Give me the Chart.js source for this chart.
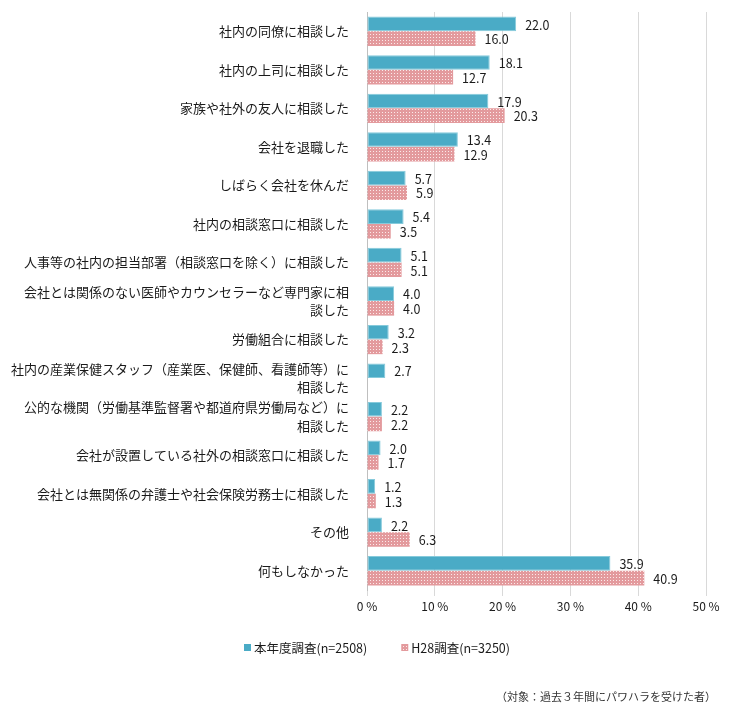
<!DOCTYPE html>
<html lang="ja">
<head>
<meta charset="utf-8">
<script src="https://cdn.jsdelivr.net/npm/chart.js@4.4.1/dist/chart.umd.min.js"></script>
<style>
  html, body { margin: 0; padding: 0; background: #ffffff; }
  #wrap { width: 732px; height: 707px; position: relative; }
</style>
</head>
<body>
<div id="wrap"><canvas id="chart" width="732" height="707"></canvas></div>
<script>
const CATEGORIES = [
  '社内の同僚に相談した',
  '社内の上司に相談した',
  '家族や社外の友人に相談した',
  '会社を退職した',
  'しばらく会社を休んだ',
  '社内の相談窓口に相談した',
  '人事等の社内の担当部署（相談窓口を除く）に相談した',
  ['会社とは関係のない医師やカウンセラーなど専門家に相', '談した'],
  '労働組合に相談した',
  ['社内の産業保健スタッフ（産業医、保健師、看護師等）に', '相談した'],
  ['公的な機関（労働基準監督署や都道府県労働局など）に', '相談した'],
  '会社が設置している社外の相談窓口に相談した',
  '会社とは無関係の弁護士や社会保険労務士に相談した',
  'その他',
  '何もしなかった',
];

const CURRENT_VALUES = [22.0, 18.1, 17.9, 13.4, 5.7, 5.4, 5.1, 4.0, 3.2, 2.7, 2.2, 2.0, 1.2, 2.2, 35.9];
const H28_VALUES = [16.0, 12.7, 20.3, 12.9, 5.9, 3.5, 5.1, 4.0, 2.3, null, 2.2, 1.7, 1.3, 6.3, 40.9];

const SERIES_LABELS = ['本年度調査(n=2508)', 'H28調査(n=3250)'];
const FOOTNOTE = '（対象：過去３年間にパワハラを受けた者）';

const FONT_FAMILY = '"Noto Sans CJK JP", "Noto Sans", sans-serif';
const TEXT_COLOR = '#1a1a1a';

function dottedPattern() {
  const tile = document.createElement('canvas');
  tile.width = 3;
  tile.height = 3;
  const ctx = tile.getContext('2d');
  ctx.fillStyle = '#e39a9d';
  ctx.fillRect(0, 0, 3, 3);
  ctx.fillStyle = '#fbeaea';
  ctx.fillRect(1, 1, 1, 1);
  return ctx.createPattern(tile, 'repeat');
}

const valueLabels = {
  id: 'valueLabels',
  afterDatasetsDraw(chart) {
    const { ctx } = chart;
    ctx.save();
    ctx.font = `12.5px ${FONT_FAMILY}`;
    ctx.fillStyle = TEXT_COLOR;
    ctx.textAlign = 'left';
    ctx.textBaseline = 'middle';
    chart.data.datasets.forEach((dataset, i) => {
      const meta = chart.getDatasetMeta(i);
      meta.data.forEach((bar, index) => {
        const value = dataset.data[index];
        if (value === null || value === undefined) {
          return;
        }
        ctx.fillText(value.toFixed(1), bar.x + 9, bar.y + 1);
      });
    });
    ctx.restore();
  },
};

// legend drawn by hand so it can sit under the plot with wide spacing
const bottomLegend = {
  id: 'bottomLegend',
  afterDraw(chart) {
    const { ctx } = chart;
    ctx.save();
    ctx.font = `12.5px ${FONT_FAMILY}`;
    ctx.textAlign = 'left';
    ctx.textBaseline = 'middle';
    let x = 244;
    const y = 648;
    chart.data.datasets.forEach((dataset) => {
      ctx.fillStyle = dataset.backgroundColor;
      ctx.fillRect(x, y - 4, 7, 7);
      ctx.fillStyle = TEXT_COLOR;
      ctx.fillText(dataset.label, x + 10, y);
      x += 10 + ctx.measureText(dataset.label).width + 34;
    });
    ctx.restore();
  },
};

const footnote = {
  id: 'footnote',
  afterDraw(chart) {
    const { ctx } = chart;
    ctx.save();
    ctx.font = `11px ${FONT_FAMILY}`;
    ctx.fillStyle = '#333333';
    ctx.textAlign = 'right';
    ctx.textBaseline = 'middle';
    ctx.fillText(FOOTNOTE, 716, 697);
    ctx.restore();
  },
};

const canvas = document.getElementById('chart');
const pinkPattern = dottedPattern();

new Chart(canvas, {
  type: 'bar',
  data: {
    labels: CATEGORIES,
    datasets: [
      {
        label: SERIES_LABELS[0],
        data: CURRENT_VALUES,
        backgroundColor: '#4aabc6',
        borderColor: '#86cadb',
        borderWidth: 1,
        borderSkipped: false,
      },
      {
        label: SERIES_LABELS[1],
        data: H28_VALUES,
        backgroundColor: pinkPattern,
        borderWidth: 0,
      },
    ],
  },
  options: {
    indexAxis: 'y',
    responsive: false,
    animation: false,
    devicePixelRatio: 1,
    layout: {
      padding: { left: 0, right: 26, top: 12, bottom: 75 },
    },
    datasets: {
      bar: { categoryPercentage: 0.76, barPercentage: 1.0 },
    },
    scales: {
      x: {
        min: 0,
        max: 50,
        afterFit(scale) {
          scale.height = 42;
        },
        ticks: {
          stepSize: 10,
          color: TEXT_COLOR,
          font: { family: FONT_FAMILY, size: 12 },
          padding: 3,
          callback: (value) => `${value} %`,
        },
        grid: {
          color: '#d9d9d9',
          drawTicks: true,
          tickLength: 6,
        },
        border: { display: false },
      },
      y: {
        afterFit(scale) {
          scale.width = 367;
          scale.paddingTop = 0;
          scale.paddingBottom = 0;
        },
        ticks: {
          color: TEXT_COLOR,
          font: { family: FONT_FAMILY, size: 13, lineHeight: 1.4 },
          padding: 10,
          autoSkip: false,
        },
        grid: { display: false },
        border: { display: true, color: '#bfbfbf', width: 1 },
      },
    },
    plugins: {
      legend: { display: false },
      tooltip: { enabled: false },
    },
  },
  plugins: [valueLabels, bottomLegend, footnote],
});
</script>
</body>
</html>
